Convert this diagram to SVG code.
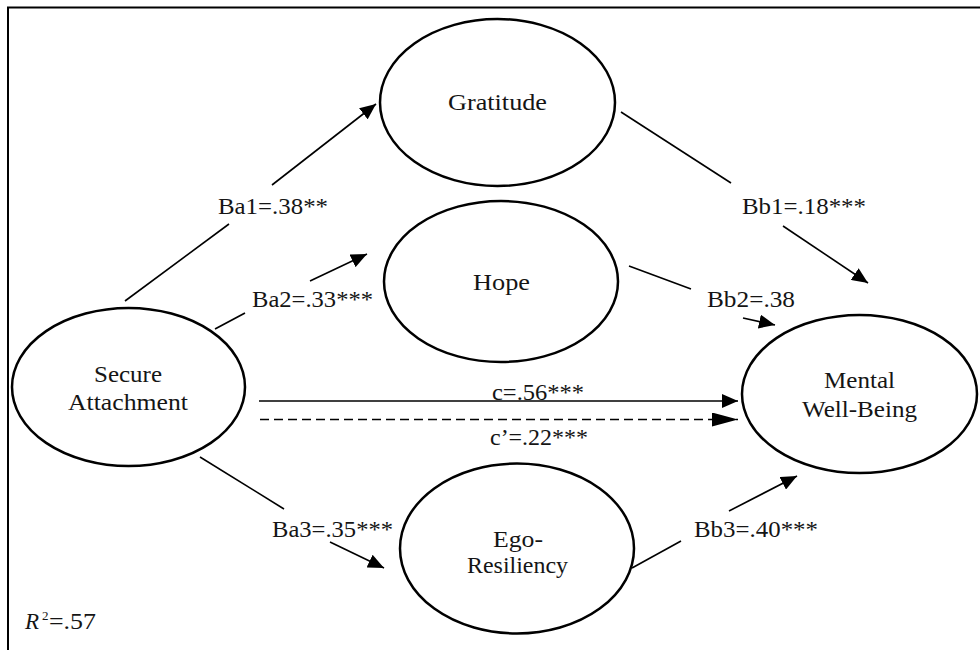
<svg xmlns="http://www.w3.org/2000/svg" width="980" height="650" viewBox="0 0 980 650">
<defs>
<style>
.node{fill:#fff;stroke:#000;stroke-width:2.5}
.t{font-family:'Liberation Serif','DejaVu Serif','Times New Roman',serif;font-size:23px;fill:#151515}
.ln{stroke:#000;stroke-width:1.6;fill:none}
.dash{stroke-dasharray:9 5}
</style>
<marker id="ah" markerUnits="userSpaceOnUse" viewBox="0 0 16 14" refX="16" refY="7" markerWidth="16" markerHeight="14" orient="auto">
<path d="M0,0 L16,7 L0,14 z" fill="#000"/>
</marker>
<marker id="ahl" markerUnits="userSpaceOnUse" viewBox="0 0 26 14" refX="26" refY="7" markerWidth="26" markerHeight="14" orient="auto">
<path d="M0,0 L26,7 L0,14 z" fill="#000"/>
</marker>
</defs>
<rect x="0" y="0" width="980" height="650" fill="#fff"/>
<rect x="8" y="7.5" width="1000" height="700" fill="none" stroke="#000" stroke-width="2"/>

<g id="connectors">
<line class="ln" x1="125" y1="301" x2="229" y2="224"/>
<line class="ln" x1="272" y1="185" x2="376" y2="104" marker-end="url(#ah)"/>
<line class="ln" x1="215" y1="329" x2="245" y2="313"/>
<line class="ln" x1="310" y1="281" x2="367" y2="254" marker-end="url(#ah)"/>
<line class="ln" x1="621" y1="112" x2="731" y2="183"/>
<line class="ln" x1="783" y1="226" x2="868" y2="283" marker-end="url(#ah)"/>
<line class="ln" x1="629" y1="266" x2="691" y2="289"/>
<line class="ln" x1="743" y1="318" x2="775" y2="325" marker-end="url(#ah)"/>
<line class="ln" x1="259" y1="401" x2="738" y2="401" marker-end="url(#ah)"/>
<line class="ln dash" x1="260" y1="419.5" x2="738" y2="419.5" marker-end="url(#ahl)"/>
<line class="ln" x1="200" y1="457" x2="284" y2="509"/>
<line class="ln" x1="330" y1="542" x2="384" y2="568" marker-end="url(#ah)"/>
<line class="ln" x1="632" y1="568" x2="681" y2="541"/>
<line class="ln" x1="729" y1="511" x2="797" y2="476" marker-end="url(#ah)"/>
<text class="t" x="218" y="214" textLength="110" lengthAdjust="spacingAndGlyphs">Ba1=.38**</text>
<text class="t" x="252" y="307" textLength="121" lengthAdjust="spacingAndGlyphs">Ba2=.33***</text>
<text class="t" x="742" y="214" textLength="124" lengthAdjust="spacingAndGlyphs">Bb1=.18***</text>
<text class="t" x="707" y="307" textLength="88" lengthAdjust="spacingAndGlyphs">Bb2=.38</text>
<text class="t" x="492" y="400" textLength="92" lengthAdjust="spacingAndGlyphs">c=.56***</text>
<text class="t" x="490" y="445" textLength="98" lengthAdjust="spacingAndGlyphs">c’=.22***</text>
<text class="t" x="272" y="537" textLength="121" lengthAdjust="spacingAndGlyphs">Ba3=.35***</text>
<text class="t" x="694" y="537" textLength="124" lengthAdjust="spacingAndGlyphs">Bb3=.40***</text>
</g>

<g id="gratitude">
<ellipse class="node" cx="497.5" cy="102.5" rx="117.5" ry="83.5"/>
<text class="t" x="448" y="110" textLength="99" lengthAdjust="spacingAndGlyphs">Gratitude</text>
</g>
<g id="hope">
<ellipse class="node" cx="501" cy="281.5" rx="117" ry="80.5"/>
<text class="t" x="473" y="290" textLength="57" lengthAdjust="spacingAndGlyphs">Hope</text>
</g>
<g id="secure-attachment">
<ellipse class="node" cx="128.5" cy="387" rx="116.5" ry="79"/>
<text class="t" x="94" y="382" textLength="68" lengthAdjust="spacingAndGlyphs">Secure</text>
<text class="t" x="68" y="410" textLength="120" lengthAdjust="spacingAndGlyphs">Attachment</text>
</g>
<g id="mental-well-being">
<ellipse class="node" cx="859.5" cy="394" rx="117.5" ry="79"/>
<text class="t" x="824" y="388" textLength="71" lengthAdjust="spacingAndGlyphs">Mental</text>
<text class="t" x="802" y="417" textLength="115" lengthAdjust="spacingAndGlyphs">Well-Being</text>
</g>
<g id="ego-resiliency">
<ellipse class="node" cx="517" cy="548.5" rx="117" ry="85"/>
<text class="t" x="493" y="547" textLength="50" lengthAdjust="spacingAndGlyphs">Ego-</text>
<text class="t" x="467" y="573" textLength="101" lengthAdjust="spacingAndGlyphs">Resiliency</text>
</g>

<text class="t" x="25" y="629"><tspan font-style="italic">R</tspan><tspan x="42" font-size="13" dy="-9">2</tspan><tspan x="49" dy="9" textLength="47" lengthAdjust="spacingAndGlyphs">=.57</tspan></text>
</svg>
